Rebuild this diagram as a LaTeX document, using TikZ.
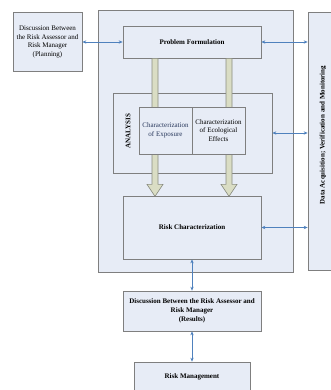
\documentclass[tikz,border=0pt]{standalone}
\usepackage{fontspec}
\setmainfont{Liberation Serif}
\usetikzlibrary{arrows.meta,calc}
\definecolor{boxfill}{HTML}{E7ECF6}
\definecolor{boxline}{HTML}{7F7F7F}
\definecolor{connblue}{HTML}{4F81BD}
\definecolor{shaftfill}{HTML}{DADDC4}
\definecolor{shaftline}{HTML}{8A8C80}
\definecolor{exptext}{HTML}{28385C}
\tikzset{
  box/.style={draw=boxline, fill=boxfill, line width=0.7pt, inner sep=1pt, align=center,
    font=\fontsize{7}{8.6}\selectfont},
  bbox/.style={box, font=\fontsize{7}{8.8}\selectfont\bfseries},
  conn/.style={draw=connblue, line width=0.6pt, {Stealth[length=4pt,width=3.4pt]}-{Stealth[length=4pt,width=3.4pt]}},
  shaft/.style={draw=shaftline, fill=shaftfill, line width=0.6pt, line join=miter},
  plain/.style={font=\fontsize{7}{8.6}\selectfont, align=center, inner sep=0pt}
}
\begin{document}
\begin{tikzpicture}[x=1pt,y=-1pt]
\useasboundingbox (0,0) rectangle (331,390);
\begin{scope}
\clip (0,0) rectangle (331,390);
% outer and side boxes
\node[box, line width=0.9pt, minimum width=195pt, minimum height=262pt] (outer) at (195.5,141) {};
\node[box, minimum width=69pt, minimum height=59pt] (left) at (47.5,42)
  {Discussion Between\\the Risk Assessor and\\Risk Manager\\(Planning)};
\node[box, minimum width=40pt, minimum height=258pt] (rbox) at (328,141) {};
\node[plain, font=\fontsize{7}{8.6}\selectfont\bfseries, rotate=90] (rtext) at (323,135)
  {Data Acquisition; Verification and Monitoring};
% problem formulation
\node[bbox, minimum width=138pt, minimum height=32pt] (pf) at (192,42) {Problem Formulation};
% analysis
\node[box, minimum width=159pt, minimum height=80pt] (ana) at (192.5,133) {};
\node[plain, font=\fontsize{7}{8.6}\selectfont\bfseries, rotate=90] (anatext) at (128,131) {ANALYSIS};
% shafts
\foreach \dx/\nm in {-37/a,37/b}{
  \coordinate (\nm top) at ($(pf.south)+(\dx,0)$);
  \coordinate (\nm tip) at ($(\nm top)+(0,138)$);
  \path[shaft] ($(\nm top)+(-3,0)$) -- ($(\nm top)+(-3,126)$) -- ($(\nm top)+(-8,126)$)
     -- (\nm tip) -- ($(\nm top)+(8,126)$) -- ($(\nm top)+(3,126)$) -- ($(\nm top)+(3,0)$) -- cycle;
}
% characterization boxes
\node[box, text=exptext, minimum width=53pt, minimum height=47pt] (exp) at (165.5,130.5)
  {Characterization\\of Exposure};
\node[box, minimum width=53pt, minimum height=47pt] (eco) at (218.5,130.5)
  {Characterization\\of Ecological\\Effects};
% risk characterization
\node[bbox, minimum width=138pt, minimum height=63pt] (rc) at (192,227.5) {Risk Characterization};
% results
\node[bbox, minimum width=138pt, minimum height=40pt] (res) at (192,311)
  {Discussion Between the Risk Assessor and\\Risk Manager\\(Results)};
% risk management
\node[bbox, minimum width=116pt, minimum height=30pt] (rm) at (192,377) {Risk Management};
% connectors
\draw[conn] (left.east) -- (pf.west);
\draw[conn] (pf.east) -- (pf.east -| rbox.west);
\draw[conn] (ana.east) -- (ana.east -| rbox.west);
\draw[conn] (rc.east) -- (rc.east -| rbox.west);
\draw[conn] (rc.south) -- (res.north);
\draw[conn] (res.south) -- (rm.north);
\end{scope}
\end{tikzpicture}
\end{document}
